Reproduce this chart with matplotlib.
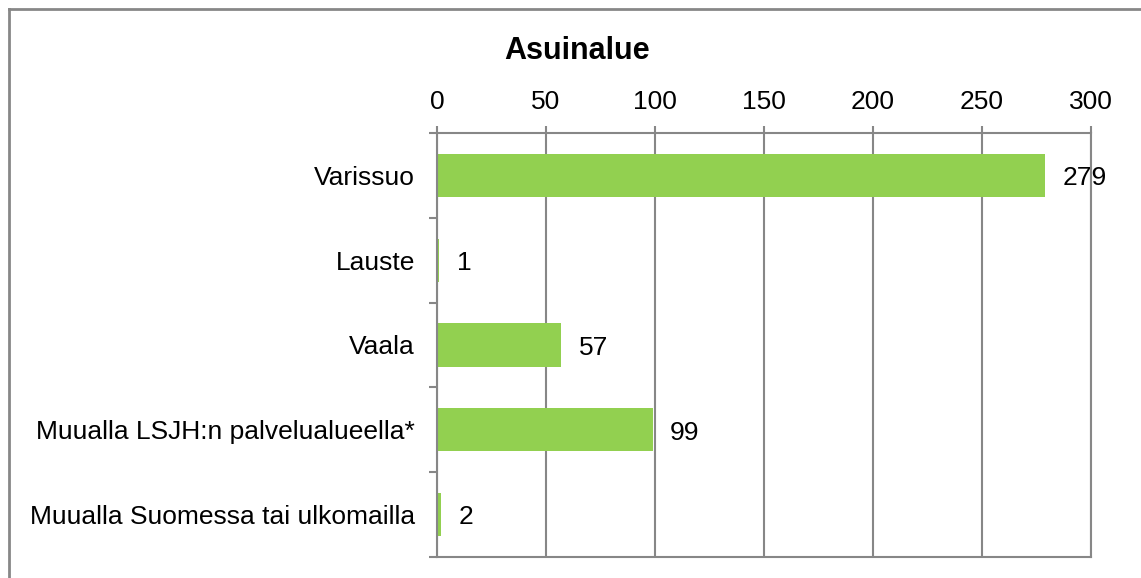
import matplotlib
matplotlib.use("Agg")
import matplotlib.pyplot as plt
from matplotlib.lines import Line2D
from matplotlib.ticker import MultipleLocator, FixedLocator

categories = ["Varissuo", "Lauste", "Vaala", "Muualla LSJH:n palvelualueella*",
              "Muualla Suomessa tai ulkomailla"]
values = [279, 1, 57, 99, 2]
title = "Asuinalue"

plt.rcParams['font.family'] = ['Liberation Sans', 'DejaVu Sans']
gray = "#878787"

fig = plt.figure(figsize=(11.41, 5.78), dpi=100)
ax = fig.add_axes([437/1141, 1-557/578, (1091-437)/1141, (557-133)/578])

y = list(range(len(categories)))
bars = ax.barh(y, values, height=0.51, color="#92D050", zorder=3)
ax.set_xlim(0, 300)
ax.set_ylim(len(categories)-0.5, -0.5)

ax.xaxis.set_major_locator(MultipleLocator(50))
ax.xaxis.tick_top()
ax.tick_params(axis='x', which='major', direction='out', length=5, width=1.5,
               color=gray, labelsize=19, pad=8.5)
ax.grid(axis='x', color=gray, linewidth=1.5, zorder=1)

ax.yaxis.set_major_locator(FixedLocator([i - 0.5 for i in range(len(categories)+1)]))
ax.yaxis.set_minor_locator(FixedLocator(y))
ax.set_yticklabels([], minor=False)
ax.set_yticks(y, categories, minor=True)
ax.tick_params(axis='y', which='major', direction='out', length=6, width=1.5, color=gray)
ax.tick_params(axis='y', which='minor', length=0, labelsize=19, pad=16)

for s in ax.spines.values():
    s.set_color(gray)
    s.set_linewidth(1.5)
    s.set_zorder(5)

for b, v in zip(bars, values):
    ax.annotate(str(v), (b.get_width(), b.get_y() + b.get_height()/2),
                xytext=(12.5, -2), textcoords='offset points',
                va='center', ha='left', fontsize=19, zorder=2, annotation_clip=False)

fig.text(577/1141, 1-59/578, title, ha='center', va='baseline',
         fontsize=22, fontweight='bold')

fig.add_artist(Line2D([8.5/1141, 8.5/1141], [0, 1-9/578], color=gray, linewidth=2,
                      transform=fig.transFigure))
fig.add_artist(Line2D([8.5/1141, 1], [1-9/578, 1-9/578], color=gray, linewidth=2,
                      transform=fig.transFigure))

fig.savefig("out.png", dpi=100)
